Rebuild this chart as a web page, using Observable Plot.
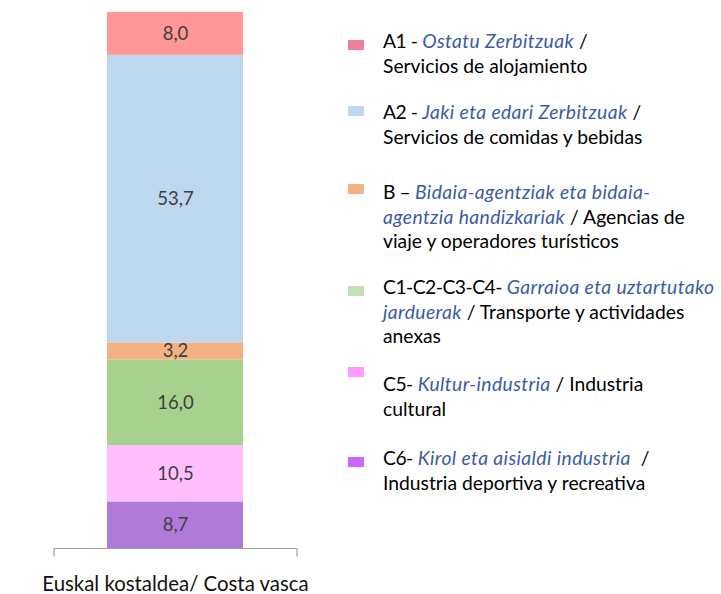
<!DOCTYPE html>
<html>
<head>
<meta charset="utf-8">
<script src="https://cdn.jsdelivr.net/npm/d3@7"></script>
<script src="https://cdn.jsdelivr.net/npm/@observablehq/plot@0.6"></script>
<style>
  body { margin: 0; background: #fff; }
  #wrap { position: relative; width: 721px; height: 594px; font-family: Lato, "Open Sans", sans-serif; }
  #wrap svg { position: absolute; left: 0; top: 0; overflow: visible; }
  .leg { position: absolute; left: 348px; font-size: 19.3px; line-height: 24.5px; color: #000; white-space: nowrap; }
  .leg .sw { position: absolute; left: 0; width: 16px; height: 10px; }
  .leg .tx { position: absolute; left: 35px; top: 0; }
  .leg i { color: #3B5BA5; letter-spacing: 0.4px; }
  .leg .cd { letter-spacing: -0.5px; }
</style>
</head>
<body>
<div id="wrap"></div>
<script>
// ---- data ----
const region = "Euskal kostaldea/ Costa vasca";
const codes = ["A1", "A2", "B", "C1-C2-C3-C4", "C5", "C6"];
const values = [8.0, 53.7, 3.2, 16.0, 10.5, 8.7];
const barColors = ["#FF9797", "#BDD7EE", "#F4B183", "#A9D18E", "#FFBFFF", "#AF7AD8"];
const legendColors = ["#F08098", "#BDD7EE", "#F4B183", "#C5E0B4", "#FF99FF", "#CC66FF"];
const legendLabels = [
  "<span class='cd'>A1 -</span> <i>Ostatu Zerbitzuak</i> /<br>Servicios de alojamiento",
  "<span class='cd'>A2 -</span> <i>Jaki eta edari Zerbitzuak</i> /<br>Servicios de comidas y bebidas",
  "<span class='cd'>B –</span> <i>Bidaia-agentziak eta bidaia-<br>agentzia handizkariak</i> / Agencias de<br>viaje y operadores turísticos",
  "<span class='cd'>C1-C2-C3-C4-</span> <i>Garraioa eta uztartutako<br>jarduerak</i> / Transporte y actividades<br>anexas",
  "<span class='cd'>C5-</span> <i>Kultur-industria</i> / Industria<br>cultural",
  "<span class='cd'>C6-</span> <i>Kirol eta aisialdi industria</i>&nbsp; /<br>Industria deportiva y recreativa"
];

// layout (not data)
const legendTextTops = [29, 100, 180, 275, 372, 446];
const legendSwatchTops = [40, 106, 184, 286, 367, 457];

// stack from bottom (C6) to top (A1)
const table = codes.map((c, i) => ({region, code: c, value: values[i], color: barColors[i]})).reverse();
const fmt = v => d3.format(".1f")(v).replace(".", ",");
const total = d3.sum(values);

const chart = Plot.plot({
  width: 721,
  height: 594,
  marginLeft: 54,
  marginRight: 424,
  marginTop: 12,
  marginBottom: 46,
  style: {fontFamily: "Lato, 'Open Sans', sans-serif", background: "transparent"},
  x: {domain: [region], padding: 0.279, label: null},
  y: {domain: [0, total], axis: null},
  marks: [
    Plot.barY(table, Plot.stackY({x: "region", y: "value", fill: d => d.color})),
    Plot.text(table, Plot.stackY({x: "region", y: "value", text: d => fmt(d.value), fill: "#404040", fontSize: 18.5})),
    (index, scales, values, dim) => {
      const g = d3.create("svg:g").attr("stroke", "#A0A0A0").attr("stroke-width", 1.2).attr("fill", "none");
      const x1 = dim.marginLeft, x2 = dim.width - dim.marginRight, y0 = scales.y(0) + 0.5;
      g.append("line").attr("x1", x1).attr("x2", x2).attr("y1", y0).attr("y2", y0);
      g.append("line").attr("x1", x1).attr("x2", x1).attr("y1", y0).attr("y2", y0 + 8);
      g.append("line").attr("x1", x2).attr("x2", x2).attr("y1", y0).attr("y2", y0 + 8);
      return g.node();
    },
    Plot.axisX({tickSize: 0, tickPadding: 28, fontSize: 20.4, fill: "#111", label: null})
  ]
});

const wrap = document.getElementById("wrap");
wrap.appendChild(chart);

codes.forEach((c, i) => {
  const sw = document.createElement("div");
  sw.className = "leg";
  sw.style.top = legendSwatchTops[i] + "px";
  sw.innerHTML = `<div class="sw" style="background:${legendColors[i]}"></div>`;
  wrap.appendChild(sw);
  const tx = document.createElement("div");
  tx.className = "leg";
  tx.style.top = legendTextTops[i] + "px";
  tx.innerHTML = `<div class="tx">${legendLabels[i]}</div>`;
  wrap.appendChild(tx);
});
</script>
</body>
</html>
